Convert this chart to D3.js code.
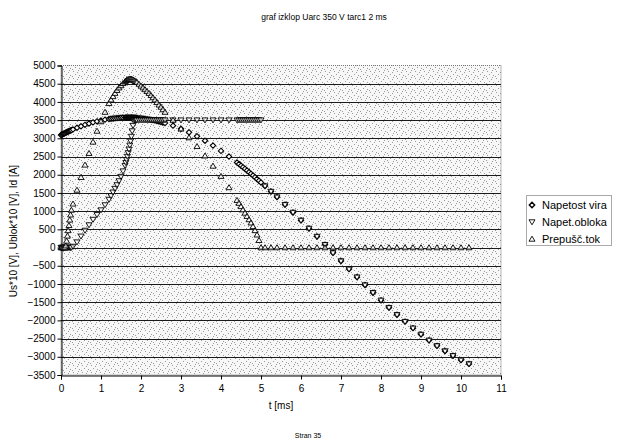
<!DOCTYPE html>
<html>
<head>
<meta charset="utf-8">
<script src="https://cdn.jsdelivr.net/npm/d3@7"></script>
<style>
  html, body { margin: 0; padding: 0; background: #fff; }
  svg { display: block; }
  text { font-family: "Liberation Sans", Arial, sans-serif; fill: #000; }
</style>
</head>
<body>
<svg id="chart" width="617" height="443"></svg>
<script>
// ---------------- DATA ----------------
const chartTitle = "graf izklop Uarc 350 V tarc1 2 ms";
const footerText = "Stran 35";
const xTitle = "t [ms]";
const yTitle = "Us*10 [V], Ublok*10 [V], Id [A]";
const seriesNames = ["Napetost vira", "Napet.obloka", "Prepušč.tok"];

const xTicks = [0, 1, 2, 3, 4, 5, 6, 7, 8, 9, 10, 11];
const yTicks = [-3500, -3000, -2500, -2000, -1500, -1000, -500, 0, 500, 1000, 1500, 2000, 2500, 3000, 3500, 4000, 4500, 5000];

// time [ms]
const time = [
  0, 0.02, 0.04, 0.06, 0.08, 0.10, 0.12, 0.14, 0.16, 0.18, 0.20, 0.22, 0.24, 0.26,
  0.3, 0.4, 0.5, 0.6, 0.7, 0.8, 0.9, 1.0, 1.1, 1.2,
  1.25, 1.3, 1.35, 1.4, 1.45, 1.5, 1.55, 1.6, 1.62, 1.64, 1.66, 1.68, 1.7, 1.72, 1.74, 1.76, 1.78, 1.8,
  1.82, 1.84, 1.86, 1.88, 1.9, 1.95, 2.0, 2.05, 2.1, 2.15, 2.2, 2.25, 2.3, 2.35, 2.4, 2.45, 2.5, 2.55,
  2.6, 2.8, 3.0, 3.2, 3.4, 3.6, 3.8, 4.0, 4.2, 4.4,
  4.45, 4.5, 4.55, 4.6, 4.65, 4.7, 4.75, 4.8, 4.85, 4.9, 4.95, 5.0,
  5.1, 5.25, 5.4, 5.6, 5.8, 6.0, 6.2, 6.4, 6.6, 6.8, 7.0, 7.2, 7.4, 7.6, 7.8, 8.0, 8.2, 8.4, 8.6, 8.8,
  9.0, 9.2, 9.4, 9.6, 9.8, 10.0, 10.2
];

// Napetost vira (source voltage *10)
const napetostVira = [
  3090, 3101, 3112, 3123, 3134, 3144, 3155, 3166, 3176, 3186, 3196, 3206, 3216, 3225,
  3244, 3290, 3331, 3370, 3406, 3438, 3466, 3491, 3513, 3531,
  3539, 3546, 3552, 3557, 3561, 3565, 3568, 3569, 3570, 3570, 3570, 3570, 3570, 3570, 3569, 3569, 3568, 3567,
  3566, 3565, 3564, 3562, 3561, 3556, 3551, 3545, 3537, 3529, 3521, 3511, 3500, 3489, 3476, 3463, 3449, 3434,
  3419, 3348, 3263, 3166, 3056, 2934, 2800, 2655, 2500, 2336,
  2293, 2249, 2206, 2161, 2117, 2071, 2025, 1979, 1932, 1884, 1836, 1788,
  1690, 1540, 1387, 1178, 964, 746, 525, 303, 79, -146, -369, -592, -812, -1028, -1241, -1449, -1651, -1846, -2034, -2214,
  -2386, -2548, -2700, -2841, -2971, -3090, -3196
];

// Napet.obloka (arc voltage *10)
const napetObloka = [
  0, 0, 0, 0, 0, 0, 0, 0, 0, 0, 0, 0, 0, 0,
  30, 150, 310, 470, 620, 770, 900, 1030, 1170, 1320,
  1420, 1520, 1620, 1720, 1830, 1950, 2100, 2250, 2330, 2410, 2500, 2600, 2700, 2810, 2920, 3050, 3200, 3350,
  3480, 3500, 3500, 3500, 3500, 3500, 3500, 3500, 3500, 3500, 3500, 3500, 3500, 3500, 3500, 3500, 3500, 3500,
  3500, 3500, 3500, 3500, 3500, 3500, 3500, 3500, 3500, 3500,
  3500, 3500, 3500, 3500, 3500, 3500, 3500, 3500, 3500, 3500, 3500, 3500,
  1690, 1540, 1387, 1178, 964, 746, 525, 303, 79, -146, -369, -592, -812, -1028, -1241, -1449, -1651, -1846, -2034, -2214,
  -2386, -2548, -2700, -2841, -2971, -3090, -3196
];

// Prepušč.tok (let-through current)
const prepuscTok = [
  0, 0, 0, 0, 0, 0, 50, 180, 320, 470, 610, 760, 900, 1030,
  1200, 1580, 1930, 2270, 2590, 2900, 3200, 3460, 3720, 3960,
  4060, 4150, 4240, 4320, 4390, 4450, 4510, 4560, 4580, 4595, 4610, 4620, 4625, 4630, 4630, 4625, 4618, 4608,
  4595, 4580, 4565, 4550, 4540, 4490, 4440, 4390, 4340, 4290, 4240, 4180, 4120, 4060, 3990, 3920, 3860, 3790,
  3720, 3500, 3260, 3020, 2780, 2520, 2240, 1960, 1650, 1300,
  1220, 1130, 1040, 950, 860, 770, 680, 580, 470, 350, 200, 0,
  0, 0, 0, 0, 0, 0, 0, 0, 0, 0, 0, 0, 0, 0, 0, 0, 0, 0, 0, 0,
  0, 0, 0, 0, 0, 0, 0
];

// ---------------- CHART ----------------
const svg = d3.select("#chart");
const plot = { left: 61, right: 501, top: 65.5, bottom: 375 };

const x = d3.scaleLinear().domain([0, 11]).range([plot.left, plot.right]);
const y = d3.scaleLinear().domain([-3500, 5000]).range([plot.bottom, plot.top]);

// stipple pattern background
const defs = svg.append("defs");
const pat = defs.append("pattern").attr("id", "stip").attr("patternUnits", "userSpaceOnUse")
  .attr("width", 9).attr("height", 7);
pat.append("rect").attr("width", 9).attr("height", 7).attr("fill", "#f7f7f7");
[[1,1],[5,2],[3,4],[7,5],[0,6],[6,0]].forEach(p =>
  pat.append("rect").attr("x", p[0]).attr("y", p[1]).attr("width", 1).attr("height", 1).attr("fill", "#9a9a9a"));

svg.append("rect")
  .attr("x", plot.left).attr("y", plot.top)
  .attr("width", plot.right - plot.left).attr("height", plot.bottom - plot.top)
  .attr("fill", "url(#stip)")
  .attr("stroke", "#777").attr("stroke-dasharray", "1,1").attr("stroke-width", 1);

// gridlines
svg.append("g").selectAll("line")
  .data(yTicks.filter(v => v > -3500 && v < 5000))
  .join("line")
  .attr("x1", plot.left).attr("x2", plot.right)
  .attr("y1", d => Math.round(y(d)) + 0.5).attr("y2", d => Math.round(y(d)) + 0.5)
  .attr("stroke", "#1a1a1a").attr("stroke-width", 1);

// axes
const yAxis = d3.axisLeft(y).tickValues(yTicks).tickSize(4).tickPadding(2).tickFormat(d3.format("d"));
const gy = svg.append("g").attr("transform", `translate(${plot.left + 0.5},0)`).call(yAxis);
const xAxis = d3.axisBottom(x).tickValues(xTicks).tickSize(4).tickPadding(5).tickFormat(d3.format("d"));
const gx = svg.append("g").attr("transform", `translate(0,${plot.bottom + 0.5})`).call(xAxis);
[gx, gy].forEach(g => {
  g.selectAll("path").attr("stroke", "#000");
  g.selectAll("line").attr("stroke", "#000");
  g.selectAll("text").attr("font-size", 10).attr("font-family", "Liberation Sans, Arial, sans-serif").attr("fill", "#000");
});

// markers
const rows = time.map((t, i) => ({ t, s: napetostVira[i], a: napetObloka[i], c: prepuscTok[i] }));
const diamond = d3.symbol().type(d3.symbolDiamond2).size(18);
const triDown = "M-3,-2.2L3,-2.2L0,2.8Z";
const triUp = "M-3,2.2L3,2.2L0,-2.8Z";

const g1 = svg.append("g");
g1.selectAll("path").data(rows).join("path")
  .attr("d", diamond)
  .attr("transform", d => `translate(${x(d.t)},${y(d.s)})`)
  .attr("fill", "#fff").attr("stroke", "#000").attr("stroke-width", 1.1);

const g2 = svg.append("g");
g2.selectAll("path").data(rows).join("path")
  .attr("d", triDown)
  .attr("transform", d => `translate(${x(d.t)},${y(d.a)})`)
  .attr("fill", "#fff").attr("fill-opacity", 0.6).attr("stroke", "#000").attr("stroke-width", 0.9);

const g3 = svg.append("g");
g3.selectAll("path").data(rows).join("path")
  .attr("d", triUp)
  .attr("transform", d => `translate(${x(d.t)},${y(d.c)})`)
  .attr("fill", "#fff").attr("fill-opacity", 0.6).attr("stroke", "#000").attr("stroke-width", 0.9);

// titles
svg.append("text").attr("x", 324).attr("y", 20).attr("text-anchor", "middle")
  .attr("font-size", 8.5).text(chartTitle);
svg.append("text").attr("x", (plot.left + plot.right) / 2).attr("y", 409).attr("text-anchor", "middle")
  .attr("font-size", 10).text(xTitle);
svg.append("text").attr("transform", "translate(17,231) rotate(-90)").attr("text-anchor", "middle")
  .attr("font-size", 10).text(yTitle);
svg.append("text").attr("x", 308).attr("y", 438).attr("text-anchor", "middle")
  .attr("font-size", 7).text(footerText);

// legend
const lg = svg.append("g");
lg.append("rect").attr("x", 526.5).attr("y", 195.5).attr("width", 85).attr("height", 50)
  .attr("fill", "#fff").attr("stroke", "#555").attr("stroke-dasharray", "1,1");
const legendShapes = [diamond(), triDown, triUp];
seriesNames.forEach((name, i) => {
  const cy = 205 + i * 17;
  lg.append("path").attr("d", legendShapes[i]).attr("transform", `translate(532,${cy})`)
    .attr("fill", "#fff").attr("stroke", "#000").attr("stroke-width", i === 0 ? 1.4 : 0.9);
  lg.append("text").attr("x", 542).attr("y", cy + 4).attr("font-size", 11).text(name);
});
</script>
</body>
</html>
